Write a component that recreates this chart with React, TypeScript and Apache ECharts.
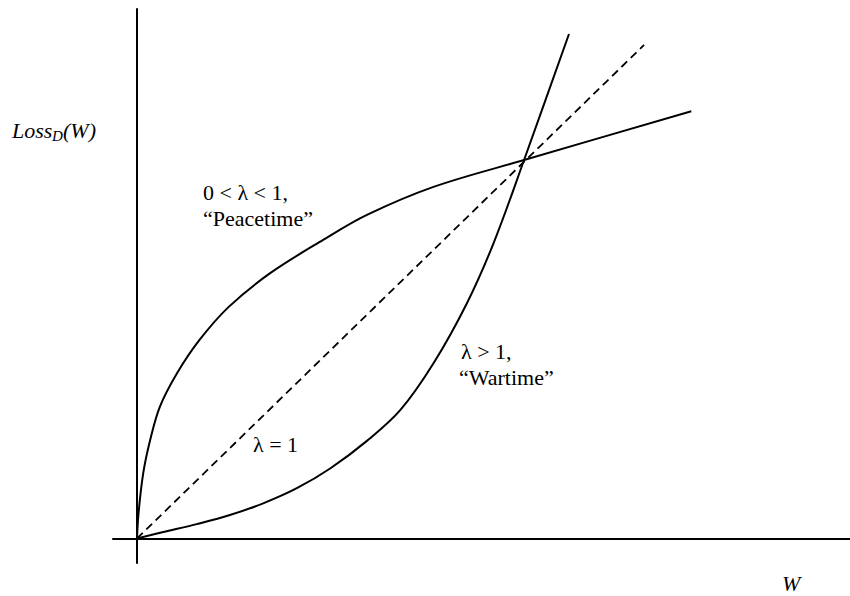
import React, { useEffect, useRef } from "react";
import * as echarts from "echarts";

// Data (W in units where the curves cross at W = 1, Loss = 1)
const peaceW = [0, 0.004, 0.016, 0.034, 0.059, 0.103, 0.161, 0.237, 0.344, 0.481, 0.594, 0.766, 1.0, 1.432];
const peaceLoss = [0, 0.067, 0.172, 0.26, 0.348, 0.436, 0.524, 0.612, 0.701, 0.789, 0.855, 0.929, 1.0, 1.129];

const warW = [0, 0.068, 0.154, 0.24, 0.326, 0.413, 0.499, 0.594, 0.68, 0.766, 0.852, 0.921, 1.0, 1.116];
const warLoss = [0, 0.017, 0.038, 0.062, 0.093, 0.133, 0.185, 0.258, 0.339, 0.463, 0.621, 0.78, 1.0, 1.333];

const unitW = [0, 1.31];
const unitLoss = [0, 1.304];

const xRange = [-0.062, 1.842];
const yRange = [-0.0647, 1.399];

const pairs = (xs: number[], ys: number[]) => xs.map((x, i) => [x, ys[i]]);

const FAMILY = "Liberation Serif";

export default function App() {
  const ref = useRef<HTMLDivElement>(null);

  useEffect(() => {
    document.body.style.margin = "0";
    if (!ref.current) return;
    const chart = echarts.init(ref.current, undefined, { renderer: "svg" });
    const axisCommon = {
      type: "value" as const,
      axisLine: { show: true, onZero: true, lineStyle: { color: "#000", width: 2 } },
      axisTick: { show: false },
      axisLabel: { show: false },
      splitLine: { show: false },
    };
    // x, y: top-left corner of the text box
    const txt = (text: string, x: number, y: number, size = 22, italic = false) => ({
      type: "text",
      x,
      y,
      style: italic
        ? { text, fill: "#000", fontSize: size, fontFamily: FAMILY, fontStyle: "italic" }
        : { text, fill: "#000", fontSize: size, fontFamily: FAMILY },
    });
    const draw = () =>
      chart.setOption(
        {
          animation: false,
          textStyle: { fontFamily: FAMILY },
          grid: { left: 113, right: 0, top: 9, bottom: 33 },
          xAxis: { ...axisCommon, min: xRange[0], max: xRange[1] },
          yAxis: { ...axisCommon, min: yRange[0], max: yRange[1] },
          series: [
            {
              type: "line",
              data: pairs(peaceW, peaceLoss),
              showSymbol: false,
              smooth: 0.35,
              lineStyle: { color: "#000", width: 2 },
            },
            {
              type: "line",
              data: pairs(warW, warLoss),
              showSymbol: false,
              smooth: 0.35,
              lineStyle: { color: "#000", width: 2 },
            },
            {
              type: "line",
              data: pairs(unitW, unitLoss),
              showSymbol: false,
              lineStyle: { color: "#000", width: 1.8, type: [8, 5] },
            },
          ],
          graphic: [
            txt("Loss", 12, 119, 22, true),
            txt("D", 52, 128, 15, true),
            txt("(W)", 63, 119, 22, true),
            txt("0 < λ < 1,", 203, 181),
            txt("\u201cPeacetime\u201d", 203, 207),
            txt("λ > 1,", 461, 340),
            txt("\u201cWartime\u201d", 459, 366),
            txt("λ = 1", 253, 433),
            txt("W", 782, 572, 22, true),
          ],
        },
        true
      );
    draw();
    let alive = true;
    const fonts = (document as any).fonts;
    if (fonts && fonts.load) {
      Promise.all([
        fonts.load(`22px "${FAMILY}"`, "λ“”0<1,"),
        fonts.load(`italic 22px "${FAMILY}"`, "LossW"),
      ])
        .then(() => {
          if (alive) draw();
        })
        .catch(() => {});
    }
    return () => {
      alive = false;
      chart.dispose();
    };
  }, []);

  return (
    <div style={{ fontFamily: FAMILY }}>
      <div ref={ref} style={{ width: 850, height: 596 }} />
    </div>
  );
}
